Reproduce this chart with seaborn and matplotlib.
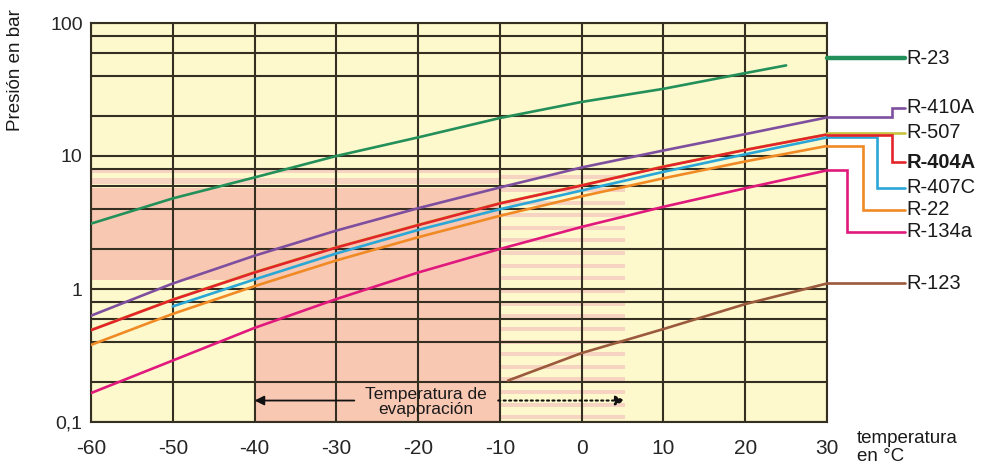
"""
Presión de saturación de refrigerantes vs temperatura (diagrama log).
Run: python plot.py  -> out.png
"""

import numpy as np
import pandas as pd
import matplotlib
matplotlib.use('Agg')
import matplotlib.pyplot as plt
import seaborn as sns

# ── Data ─────────────────────────────────────────────────────────────────────
T_FULL   = [-60, -50, -40, -30, -20, -10, 0, 10, 20, 30]
T_R23    = [-60, -50, -40, -30, -20, -10, 0, 10, 20, 25]
T_R407C  = [-50, -40, -30, -20, -10, 0, 10, 20, 30]
T_R123   = [-9, 0, 10, 20, 30]

P_R23    = [3.1, 4.8, 6.9, 10.0, 13.8, 19.3, 25.5, 32.0, 42.0, 48.0]
P_R410A  = [0.63, 1.10, 1.78, 2.75, 4.05, 5.80, 8.2, 11.0, 14.6, 19.5]
P_R507   = [0.492, 0.835, 1.34, 2.06, 3.04, 4.42, 6.03, 8.34, 11.15, 14.55]
P_R404A  = [0.49, 0.83, 1.33, 2.05, 3.02, 4.40, 6.0, 8.3, 11.1, 14.5]
P_R407C  = [0.74, 1.18, 1.85, 2.78, 3.98, 5.5, 7.6, 10.3, 13.8]
P_R22    = [0.38, 0.65, 1.05, 1.64, 2.45, 3.55, 4.98, 6.8, 9.1, 11.9]
P_R134A  = [0.165, 0.29, 0.51, 0.84, 1.33, 2.0, 2.93, 4.15, 5.72, 7.8]
P_R123   = [0.205, 0.33, 0.50, 0.77, 1.10]

NAMES    = ['R-507', 'R-23', 'R-410A', 'R-407C', 'R-404A', 'R-22', 'R-134a', 'R-123']
COLORS   = ['#c9c23e', '#23905a', '#7d4f9e', '#2aa7d6', '#e3242b', '#f08a24',
            '#e0197d', '#9b5a3c']

# right-hand labels: label y, corner x of the leader (None = straight)
LABEL_Y  = {'R-23': 54.5, 'R-410A': 23.0, 'R-507': 14.9, 'R-404A': 9.0,
            'R-407C': 5.75, 'R-22': 3.93, 'R-134a': 2.69, 'R-123': 1.10}
CORNER_X = {'R-23': None, 'R-410A': 37.9, 'R-507': None, 'R-404A': 37.9,
            'R-407C': 36.1, 'R-22': 34.4, 'R-134a': 32.5, 'R-123': None}

X_TICKS  = [-60, -50, -40, -30, -20, -10, 0, 10, 20, 30]
Y_TICKS  = [0.1, 1, 10, 100]
Y_LABELS = ['0,1', '1', '10', '100']

series = {
    'R-23':   (T_R23, P_R23),
    'R-410A': (T_FULL, P_R410A),
    'R-507':  (T_FULL, P_R507),
    'R-404A': (T_FULL, P_R404A),
    'R-407C': (T_R407C, P_R407C),
    'R-22':   (T_FULL, P_R22),
    'R-134a': (T_FULL, P_R134A),
    'R-123':  (T_R123, P_R123),
}
df = pd.concat([pd.DataFrame({'temp': t, 'pres': p, 'ref': n})
                for n, (t, p) in series.items()], ignore_index=True)

# ── Style ────────────────────────────────────────────────────────────────────
sns.set_theme(style='white')
plt.rcParams['font.family'] = ['Liberation Sans', 'DejaVu Sans']

YELLOW = '#fef8cd'
PINK   = '#f9c8b3'
STRIPE = '#f7d4c2'
GRID   = '#352f21'

fig = plt.figure(figsize=(9.88, 4.76), dpi=100)
ax = fig.add_axes([91 / 988, 1 - 422 / 476, (827 - 91) / 988, (422 - 23) / 476])
ax.set_facecolor(YELLOW)

# ── Shaded evaporation zone ──────────────────────────────────────────────────
ax.fill_between([-60, -40], 1.17, 5.75, color=PINK, lw=0, zorder=0)
ax.fill_between([-40, -10], 0.1, 5.75, color=PINK, lw=0, zorder=0)
for lo, hi in [(6.16, 6.84), (7.45, 8.1)]:
    ax.fill_between([-60, -10], lo, hi, color=STRIPE, lw=0, zorder=0)
for e in np.arange(-1.0, 0.9, 0.095):
    ax.fill_between([-10, 5.3], 10 ** (e + 0.02), 10 ** (e + 0.05),
                    color=STRIPE, lw=0, zorder=0)

# ── Curves ───────────────────────────────────────────────────────────────────
palette = dict(zip(NAMES, COLORS))
sns.lineplot(data=df, x='temp', y='pres', hue='ref', hue_order=NAMES,
             palette=palette, estimator=None, sort=False, legend=False,
             lw=1.9, ax=ax, zorder=3)

ax.set_yscale('log')
ax.set_xlim(-60, 30)
ax.set_ylim(0.1, 100)
ax.set_xticks(X_TICKS)
ax.set_xticklabels([str(v) for v in X_TICKS], fontsize=15)
ax.set_yticks(Y_TICKS)
ax.set_yticklabels(Y_LABELS, fontsize=14)
minors = [m * 10.0 ** k for k in (-1, 0, 1) for m in (2, 4, 6, 8)]
ax.set_yticks(minors, minor=True)
ax.tick_params(axis='both', which='both', length=0)
ax.tick_params(axis='x', pad=12)
ax.tick_params(axis='y', pad=6)
ax.grid(True, which='both', color=GRID, lw=1.5, zorder=1)
ax.set_axisbelow(True)
for s in ax.spines.values():
    s.set_color(GRID)
    s.set_linewidth(1.5)
ax.set_xlabel('')
ax.set_ylabel('')

# ── Leader lines + labels on the right ───────────────────────────────────────
X_END, X_TXT = 39.5, 39.7
for name in ['R-507', 'R-23', 'R-410A', 'R-407C', 'R-404A', 'R-22', 'R-134a', 'R-123']:
    t, p = series[name]
    y0, y1 = p[-1], LABEL_Y[name]
    cx = CORNER_X[name]
    if name == 'R-23':
        xs, ys, lw = [30, X_END], [y1, y1], 3.2
    elif cx is None:
        xs, ys, lw = [30, X_END], [y1, y1], 1.9
    else:
        xs, ys, lw = [30, cx, cx, X_END], [y0, y0, y1, y1], 1.9
    ax.plot(xs, ys, color=palette[name], lw=lw, clip_on=False, zorder=4,
            solid_joinstyle='miter')
    ax.text(X_TXT, y1, name, fontsize=14.5, va='center', ha='left',
            color='#1a1a1a', fontweight='bold' if name == 'R-404A' else 'normal',
            clip_on=False)

# ── Evaporation temperature annotation ───────────────────────────────────────
ax.text(-19, 0.141, 'Temperatura de\nevaporación', fontsize=12.5, ha='center',
        va='center', linespacing=1.05, color='#1a1a1a', zorder=5)
ax.annotate('', xy=(-40, 0.145), xytext=(-27.8, 0.145), zorder=5,
            arrowprops=dict(arrowstyle='-|>', color='#111111', lw=1.3,
                            mutation_scale=14, shrinkA=0, shrinkB=0))
ax.annotate('', xy=(5.3, 0.145), xytext=(-10.2, 0.145), zorder=5,
            arrowprops=dict(arrowstyle='-|>', color='#111111', lw=1.5,
                            linestyle=(0, (1, 1.6)), mutation_scale=14,
                            shrinkA=0, shrinkB=0))

# ── Axis titles ──────────────────────────────────────────────────────────────
fig.text(15 / 988, 1 - 70 / 476, 'Presión en bar', rotation=90, fontsize=13.5,
         ha='center', va='center', color='#1a1a1a')
fig.text(857 / 988, 1 - 430 / 476, 'temperatura\nen °C', fontsize=13.5,
         ha='left', va='top', linespacing=1.1, color='#1a1a1a')

fig.savefig('out.png', dpi=100, facecolor='white')
plt.close(fig)
